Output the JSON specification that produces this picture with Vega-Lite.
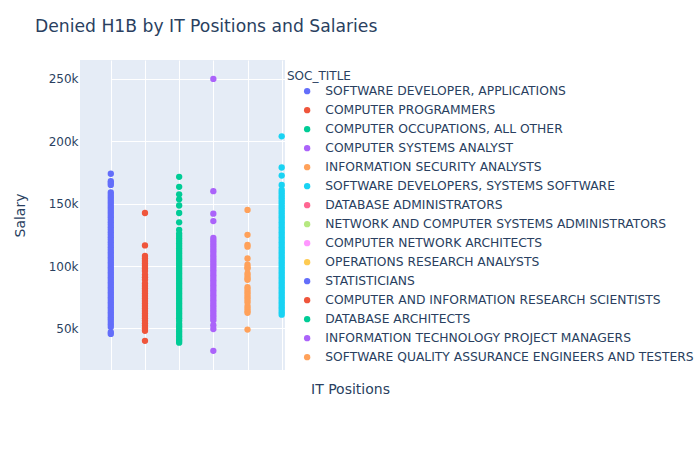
{
  "$schema": "https://vega.github.io/schema/vega-lite/v6.json",
  "width": 205,
  "height": 310,
  "autosize": {"type": "none"},
  "padding": {"left": 80, "top": 60, "right": 415, "bottom": 80},
  "background": "white",
  "config": {
    "font": "DejaVu Sans",
    "view": {"fill": "#E5ECF6", "stroke": null},
    "axis": {"labelColor": "#2a3f5f", "titleColor": "#2a3f5f", "titleFontWeight": "normal", "labelFontSize": 12, "titleFontSize": 14, "gridColor": "white", "gridWidth": 1, "domain": false, "ticks": false}
  },
  "title": {"text": "Denied H1B by IT Positions and Salaries", "anchor": "start", "frame": "group", "dx": -45, "offset": 25, "fontSize": 17.2, "fontWeight": "normal", "color": "#2a3f5f"},
  "datasets": {
    "pts": [
      {"SOC_TITLE": "SOFTWARE DEVELOPER, APPLICATIONS", "Salary": 174000},
      {"SOC_TITLE": "SOFTWARE DEVELOPER, APPLICATIONS", "Salary": 168000},
      {"SOC_TITLE": "SOFTWARE DEVELOPER, APPLICATIONS", "Salary": 166500},
      {"SOC_TITLE": "SOFTWARE DEVELOPER, APPLICATIONS", "Salary": 165000},
      {"SOC_TITLE": "SOFTWARE DEVELOPER, APPLICATIONS", "Salary": 159000},
      {"SOC_TITLE": "SOFTWARE DEVELOPER, APPLICATIONS", "Salary": 157000},
      {"SOC_TITLE": "SOFTWARE DEVELOPER, APPLICATIONS", "Salary": 155000},
      {"SOC_TITLE": "SOFTWARE DEVELOPER, APPLICATIONS", "Salary": 153000},
      {"SOC_TITLE": "SOFTWARE DEVELOPER, APPLICATIONS", "Salary": 151000},
      {"SOC_TITLE": "SOFTWARE DEVELOPER, APPLICATIONS", "Salary": 149000},
      {"SOC_TITLE": "SOFTWARE DEVELOPER, APPLICATIONS", "Salary": 147000},
      {"SOC_TITLE": "SOFTWARE DEVELOPER, APPLICATIONS", "Salary": 145000},
      {"SOC_TITLE": "SOFTWARE DEVELOPER, APPLICATIONS", "Salary": 143000},
      {"SOC_TITLE": "SOFTWARE DEVELOPER, APPLICATIONS", "Salary": 141000},
      {"SOC_TITLE": "SOFTWARE DEVELOPER, APPLICATIONS", "Salary": 139000},
      {"SOC_TITLE": "SOFTWARE DEVELOPER, APPLICATIONS", "Salary": 137000},
      {"SOC_TITLE": "SOFTWARE DEVELOPER, APPLICATIONS", "Salary": 135000},
      {"SOC_TITLE": "SOFTWARE DEVELOPER, APPLICATIONS", "Salary": 133000},
      {"SOC_TITLE": "SOFTWARE DEVELOPER, APPLICATIONS", "Salary": 131000},
      {"SOC_TITLE": "SOFTWARE DEVELOPER, APPLICATIONS", "Salary": 129000},
      {"SOC_TITLE": "SOFTWARE DEVELOPER, APPLICATIONS", "Salary": 127000},
      {"SOC_TITLE": "SOFTWARE DEVELOPER, APPLICATIONS", "Salary": 125000},
      {"SOC_TITLE": "SOFTWARE DEVELOPER, APPLICATIONS", "Salary": 123000},
      {"SOC_TITLE": "SOFTWARE DEVELOPER, APPLICATIONS", "Salary": 121000},
      {"SOC_TITLE": "SOFTWARE DEVELOPER, APPLICATIONS", "Salary": 119000},
      {"SOC_TITLE": "SOFTWARE DEVELOPER, APPLICATIONS", "Salary": 117000},
      {"SOC_TITLE": "SOFTWARE DEVELOPER, APPLICATIONS", "Salary": 115000},
      {"SOC_TITLE": "SOFTWARE DEVELOPER, APPLICATIONS", "Salary": 113000},
      {"SOC_TITLE": "SOFTWARE DEVELOPER, APPLICATIONS", "Salary": 111000},
      {"SOC_TITLE": "SOFTWARE DEVELOPER, APPLICATIONS", "Salary": 109000},
      {"SOC_TITLE": "SOFTWARE DEVELOPER, APPLICATIONS", "Salary": 107000},
      {"SOC_TITLE": "SOFTWARE DEVELOPER, APPLICATIONS", "Salary": 105000},
      {"SOC_TITLE": "SOFTWARE DEVELOPER, APPLICATIONS", "Salary": 103000},
      {"SOC_TITLE": "SOFTWARE DEVELOPER, APPLICATIONS", "Salary": 101000},
      {"SOC_TITLE": "SOFTWARE DEVELOPER, APPLICATIONS", "Salary": 99000},
      {"SOC_TITLE": "SOFTWARE DEVELOPER, APPLICATIONS", "Salary": 97000},
      {"SOC_TITLE": "SOFTWARE DEVELOPER, APPLICATIONS", "Salary": 95000},
      {"SOC_TITLE": "SOFTWARE DEVELOPER, APPLICATIONS", "Salary": 93000},
      {"SOC_TITLE": "SOFTWARE DEVELOPER, APPLICATIONS", "Salary": 91000},
      {"SOC_TITLE": "SOFTWARE DEVELOPER, APPLICATIONS", "Salary": 89000},
      {"SOC_TITLE": "SOFTWARE DEVELOPER, APPLICATIONS", "Salary": 87000},
      {"SOC_TITLE": "SOFTWARE DEVELOPER, APPLICATIONS", "Salary": 85000},
      {"SOC_TITLE": "SOFTWARE DEVELOPER, APPLICATIONS", "Salary": 83000},
      {"SOC_TITLE": "SOFTWARE DEVELOPER, APPLICATIONS", "Salary": 81000},
      {"SOC_TITLE": "SOFTWARE DEVELOPER, APPLICATIONS", "Salary": 79000},
      {"SOC_TITLE": "SOFTWARE DEVELOPER, APPLICATIONS", "Salary": 77000},
      {"SOC_TITLE": "SOFTWARE DEVELOPER, APPLICATIONS", "Salary": 75000},
      {"SOC_TITLE": "SOFTWARE DEVELOPER, APPLICATIONS", "Salary": 73000},
      {"SOC_TITLE": "SOFTWARE DEVELOPER, APPLICATIONS", "Salary": 71000},
      {"SOC_TITLE": "SOFTWARE DEVELOPER, APPLICATIONS", "Salary": 69000},
      {"SOC_TITLE": "SOFTWARE DEVELOPER, APPLICATIONS", "Salary": 67000},
      {"SOC_TITLE": "SOFTWARE DEVELOPER, APPLICATIONS", "Salary": 65000},
      {"SOC_TITLE": "SOFTWARE DEVELOPER, APPLICATIONS", "Salary": 63000},
      {"SOC_TITLE": "SOFTWARE DEVELOPER, APPLICATIONS", "Salary": 61000},
      {"SOC_TITLE": "SOFTWARE DEVELOPER, APPLICATIONS", "Salary": 59000},
      {"SOC_TITLE": "SOFTWARE DEVELOPER, APPLICATIONS", "Salary": 57000},
      {"SOC_TITLE": "SOFTWARE DEVELOPER, APPLICATIONS", "Salary": 55000},
      {"SOC_TITLE": "SOFTWARE DEVELOPER, APPLICATIONS", "Salary": 53000},
      {"SOC_TITLE": "SOFTWARE DEVELOPER, APPLICATIONS", "Salary": 51000},
      {"SOC_TITLE": "SOFTWARE DEVELOPER, APPLICATIONS", "Salary": 47000},
      {"SOC_TITLE": "SOFTWARE DEVELOPER, APPLICATIONS", "Salary": 45500},
      {"SOC_TITLE": "COMPUTER PROGRAMMERS", "Salary": 142500},
      {"SOC_TITLE": "COMPUTER PROGRAMMERS", "Salary": 116500},
      {"SOC_TITLE": "COMPUTER PROGRAMMERS", "Salary": 108000},
      {"SOC_TITLE": "COMPUTER PROGRAMMERS", "Salary": 106000},
      {"SOC_TITLE": "COMPUTER PROGRAMMERS", "Salary": 104000},
      {"SOC_TITLE": "COMPUTER PROGRAMMERS", "Salary": 102000},
      {"SOC_TITLE": "COMPUTER PROGRAMMERS", "Salary": 100000},
      {"SOC_TITLE": "COMPUTER PROGRAMMERS", "Salary": 98000},
      {"SOC_TITLE": "COMPUTER PROGRAMMERS", "Salary": 96000},
      {"SOC_TITLE": "COMPUTER PROGRAMMERS", "Salary": 93000},
      {"SOC_TITLE": "COMPUTER PROGRAMMERS", "Salary": 91000},
      {"SOC_TITLE": "COMPUTER PROGRAMMERS", "Salary": 89000},
      {"SOC_TITLE": "COMPUTER PROGRAMMERS", "Salary": 86000},
      {"SOC_TITLE": "COMPUTER PROGRAMMERS", "Salary": 84000},
      {"SOC_TITLE": "COMPUTER PROGRAMMERS", "Salary": 82000},
      {"SOC_TITLE": "COMPUTER PROGRAMMERS", "Salary": 80000},
      {"SOC_TITLE": "COMPUTER PROGRAMMERS", "Salary": 78000},
      {"SOC_TITLE": "COMPUTER PROGRAMMERS", "Salary": 76000},
      {"SOC_TITLE": "COMPUTER PROGRAMMERS", "Salary": 74000},
      {"SOC_TITLE": "COMPUTER PROGRAMMERS", "Salary": 72000},
      {"SOC_TITLE": "COMPUTER PROGRAMMERS", "Salary": 70000},
      {"SOC_TITLE": "COMPUTER PROGRAMMERS", "Salary": 68000},
      {"SOC_TITLE": "COMPUTER PROGRAMMERS", "Salary": 66000},
      {"SOC_TITLE": "COMPUTER PROGRAMMERS", "Salary": 64000},
      {"SOC_TITLE": "COMPUTER PROGRAMMERS", "Salary": 62000},
      {"SOC_TITLE": "COMPUTER PROGRAMMERS", "Salary": 60000},
      {"SOC_TITLE": "COMPUTER PROGRAMMERS", "Salary": 58000},
      {"SOC_TITLE": "COMPUTER PROGRAMMERS", "Salary": 56000},
      {"SOC_TITLE": "COMPUTER PROGRAMMERS", "Salary": 54000},
      {"SOC_TITLE": "COMPUTER PROGRAMMERS", "Salary": 52000},
      {"SOC_TITLE": "COMPUTER PROGRAMMERS", "Salary": 50000},
      {"SOC_TITLE": "COMPUTER PROGRAMMERS", "Salary": 48000},
      {"SOC_TITLE": "COMPUTER PROGRAMMERS", "Salary": 40000},
      {"SOC_TITLE": "COMPUTER OCCUPATIONS, ALL OTHER", "Salary": 171500},
      {"SOC_TITLE": "COMPUTER OCCUPATIONS, ALL OTHER", "Salary": 163500},
      {"SOC_TITLE": "COMPUTER OCCUPATIONS, ALL OTHER", "Salary": 157500},
      {"SOC_TITLE": "COMPUTER OCCUPATIONS, ALL OTHER", "Salary": 153500},
      {"SOC_TITLE": "COMPUTER OCCUPATIONS, ALL OTHER", "Salary": 148500},
      {"SOC_TITLE": "COMPUTER OCCUPATIONS, ALL OTHER", "Salary": 142500},
      {"SOC_TITLE": "COMPUTER OCCUPATIONS, ALL OTHER", "Salary": 135000},
      {"SOC_TITLE": "COMPUTER OCCUPATIONS, ALL OTHER", "Salary": 129000},
      {"SOC_TITLE": "COMPUTER OCCUPATIONS, ALL OTHER", "Salary": 126000},
      {"SOC_TITLE": "COMPUTER OCCUPATIONS, ALL OTHER", "Salary": 124000},
      {"SOC_TITLE": "COMPUTER OCCUPATIONS, ALL OTHER", "Salary": 122000},
      {"SOC_TITLE": "COMPUTER OCCUPATIONS, ALL OTHER", "Salary": 120000},
      {"SOC_TITLE": "COMPUTER OCCUPATIONS, ALL OTHER", "Salary": 118000},
      {"SOC_TITLE": "COMPUTER OCCUPATIONS, ALL OTHER", "Salary": 116000},
      {"SOC_TITLE": "COMPUTER OCCUPATIONS, ALL OTHER", "Salary": 114000},
      {"SOC_TITLE": "COMPUTER OCCUPATIONS, ALL OTHER", "Salary": 112000},
      {"SOC_TITLE": "COMPUTER OCCUPATIONS, ALL OTHER", "Salary": 110000},
      {"SOC_TITLE": "COMPUTER OCCUPATIONS, ALL OTHER", "Salary": 108000},
      {"SOC_TITLE": "COMPUTER OCCUPATIONS, ALL OTHER", "Salary": 106000},
      {"SOC_TITLE": "COMPUTER OCCUPATIONS, ALL OTHER", "Salary": 104000},
      {"SOC_TITLE": "COMPUTER OCCUPATIONS, ALL OTHER", "Salary": 102000},
      {"SOC_TITLE": "COMPUTER OCCUPATIONS, ALL OTHER", "Salary": 100000},
      {"SOC_TITLE": "COMPUTER OCCUPATIONS, ALL OTHER", "Salary": 98000},
      {"SOC_TITLE": "COMPUTER OCCUPATIONS, ALL OTHER", "Salary": 96000},
      {"SOC_TITLE": "COMPUTER OCCUPATIONS, ALL OTHER", "Salary": 94000},
      {"SOC_TITLE": "COMPUTER OCCUPATIONS, ALL OTHER", "Salary": 92000},
      {"SOC_TITLE": "COMPUTER OCCUPATIONS, ALL OTHER", "Salary": 90000},
      {"SOC_TITLE": "COMPUTER OCCUPATIONS, ALL OTHER", "Salary": 88000},
      {"SOC_TITLE": "COMPUTER OCCUPATIONS, ALL OTHER", "Salary": 86000},
      {"SOC_TITLE": "COMPUTER OCCUPATIONS, ALL OTHER", "Salary": 84000},
      {"SOC_TITLE": "COMPUTER OCCUPATIONS, ALL OTHER", "Salary": 82000},
      {"SOC_TITLE": "COMPUTER OCCUPATIONS, ALL OTHER", "Salary": 80000},
      {"SOC_TITLE": "COMPUTER OCCUPATIONS, ALL OTHER", "Salary": 78000},
      {"SOC_TITLE": "COMPUTER OCCUPATIONS, ALL OTHER", "Salary": 76000},
      {"SOC_TITLE": "COMPUTER OCCUPATIONS, ALL OTHER", "Salary": 74000},
      {"SOC_TITLE": "COMPUTER OCCUPATIONS, ALL OTHER", "Salary": 72000},
      {"SOC_TITLE": "COMPUTER OCCUPATIONS, ALL OTHER", "Salary": 70000},
      {"SOC_TITLE": "COMPUTER OCCUPATIONS, ALL OTHER", "Salary": 68000},
      {"SOC_TITLE": "COMPUTER OCCUPATIONS, ALL OTHER", "Salary": 66000},
      {"SOC_TITLE": "COMPUTER OCCUPATIONS, ALL OTHER", "Salary": 64000},
      {"SOC_TITLE": "COMPUTER OCCUPATIONS, ALL OTHER", "Salary": 62000},
      {"SOC_TITLE": "COMPUTER OCCUPATIONS, ALL OTHER", "Salary": 60000},
      {"SOC_TITLE": "COMPUTER OCCUPATIONS, ALL OTHER", "Salary": 58000},
      {"SOC_TITLE": "COMPUTER OCCUPATIONS, ALL OTHER", "Salary": 56000},
      {"SOC_TITLE": "COMPUTER OCCUPATIONS, ALL OTHER", "Salary": 53500},
      {"SOC_TITLE": "COMPUTER OCCUPATIONS, ALL OTHER", "Salary": 51500},
      {"SOC_TITLE": "COMPUTER OCCUPATIONS, ALL OTHER", "Salary": 49500},
      {"SOC_TITLE": "COMPUTER OCCUPATIONS, ALL OTHER", "Salary": 47500},
      {"SOC_TITLE": "COMPUTER OCCUPATIONS, ALL OTHER", "Salary": 45500},
      {"SOC_TITLE": "COMPUTER OCCUPATIONS, ALL OTHER", "Salary": 43500},
      {"SOC_TITLE": "COMPUTER OCCUPATIONS, ALL OTHER", "Salary": 41500},
      {"SOC_TITLE": "COMPUTER OCCUPATIONS, ALL OTHER", "Salary": 40000},
      {"SOC_TITLE": "COMPUTER OCCUPATIONS, ALL OTHER", "Salary": 38500},
      {"SOC_TITLE": "COMPUTER SYSTEMS ANALYST", "Salary": 250000},
      {"SOC_TITLE": "COMPUTER SYSTEMS ANALYST", "Salary": 160000},
      {"SOC_TITLE": "COMPUTER SYSTEMS ANALYST", "Salary": 142000},
      {"SOC_TITLE": "COMPUTER SYSTEMS ANALYST", "Salary": 136000},
      {"SOC_TITLE": "COMPUTER SYSTEMS ANALYST", "Salary": 122500},
      {"SOC_TITLE": "COMPUTER SYSTEMS ANALYST", "Salary": 120500},
      {"SOC_TITLE": "COMPUTER SYSTEMS ANALYST", "Salary": 118500},
      {"SOC_TITLE": "COMPUTER SYSTEMS ANALYST", "Salary": 116500},
      {"SOC_TITLE": "COMPUTER SYSTEMS ANALYST", "Salary": 114500},
      {"SOC_TITLE": "COMPUTER SYSTEMS ANALYST", "Salary": 112500},
      {"SOC_TITLE": "COMPUTER SYSTEMS ANALYST", "Salary": 110500},
      {"SOC_TITLE": "COMPUTER SYSTEMS ANALYST", "Salary": 108500},
      {"SOC_TITLE": "COMPUTER SYSTEMS ANALYST", "Salary": 106500},
      {"SOC_TITLE": "COMPUTER SYSTEMS ANALYST", "Salary": 104500},
      {"SOC_TITLE": "COMPUTER SYSTEMS ANALYST", "Salary": 102500},
      {"SOC_TITLE": "COMPUTER SYSTEMS ANALYST", "Salary": 100500},
      {"SOC_TITLE": "COMPUTER SYSTEMS ANALYST", "Salary": 98500},
      {"SOC_TITLE": "COMPUTER SYSTEMS ANALYST", "Salary": 96500},
      {"SOC_TITLE": "COMPUTER SYSTEMS ANALYST", "Salary": 94500},
      {"SOC_TITLE": "COMPUTER SYSTEMS ANALYST", "Salary": 92500},
      {"SOC_TITLE": "COMPUTER SYSTEMS ANALYST", "Salary": 90500},
      {"SOC_TITLE": "COMPUTER SYSTEMS ANALYST", "Salary": 88500},
      {"SOC_TITLE": "COMPUTER SYSTEMS ANALYST", "Salary": 86500},
      {"SOC_TITLE": "COMPUTER SYSTEMS ANALYST", "Salary": 84500},
      {"SOC_TITLE": "COMPUTER SYSTEMS ANALYST", "Salary": 82500},
      {"SOC_TITLE": "COMPUTER SYSTEMS ANALYST", "Salary": 80500},
      {"SOC_TITLE": "COMPUTER SYSTEMS ANALYST", "Salary": 78500},
      {"SOC_TITLE": "COMPUTER SYSTEMS ANALYST", "Salary": 76500},
      {"SOC_TITLE": "COMPUTER SYSTEMS ANALYST", "Salary": 74500},
      {"SOC_TITLE": "COMPUTER SYSTEMS ANALYST", "Salary": 72500},
      {"SOC_TITLE": "COMPUTER SYSTEMS ANALYST", "Salary": 70500},
      {"SOC_TITLE": "COMPUTER SYSTEMS ANALYST", "Salary": 68500},
      {"SOC_TITLE": "COMPUTER SYSTEMS ANALYST", "Salary": 66500},
      {"SOC_TITLE": "COMPUTER SYSTEMS ANALYST", "Salary": 64500},
      {"SOC_TITLE": "COMPUTER SYSTEMS ANALYST", "Salary": 62500},
      {"SOC_TITLE": "COMPUTER SYSTEMS ANALYST", "Salary": 60500},
      {"SOC_TITLE": "COMPUTER SYSTEMS ANALYST", "Salary": 58500},
      {"SOC_TITLE": "COMPUTER SYSTEMS ANALYST", "Salary": 56500},
      {"SOC_TITLE": "COMPUTER SYSTEMS ANALYST", "Salary": 52500},
      {"SOC_TITLE": "COMPUTER SYSTEMS ANALYST", "Salary": 49500},
      {"SOC_TITLE": "COMPUTER SYSTEMS ANALYST", "Salary": 32000},
      {"SOC_TITLE": "INFORMATION SECURITY ANALYSTS", "Salary": 145000},
      {"SOC_TITLE": "INFORMATION SECURITY ANALYSTS", "Salary": 125000},
      {"SOC_TITLE": "INFORMATION SECURITY ANALYSTS", "Salary": 117000},
      {"SOC_TITLE": "INFORMATION SECURITY ANALYSTS", "Salary": 115500},
      {"SOC_TITLE": "INFORMATION SECURITY ANALYSTS", "Salary": 106000},
      {"SOC_TITLE": "INFORMATION SECURITY ANALYSTS", "Salary": 101000},
      {"SOC_TITLE": "INFORMATION SECURITY ANALYSTS", "Salary": 99000},
      {"SOC_TITLE": "INFORMATION SECURITY ANALYSTS", "Salary": 98000},
      {"SOC_TITLE": "INFORMATION SECURITY ANALYSTS", "Salary": 94000},
      {"SOC_TITLE": "INFORMATION SECURITY ANALYSTS", "Salary": 92000},
      {"SOC_TITLE": "INFORMATION SECURITY ANALYSTS", "Salary": 90000},
      {"SOC_TITLE": "INFORMATION SECURITY ANALYSTS", "Salary": 89000},
      {"SOC_TITLE": "INFORMATION SECURITY ANALYSTS", "Salary": 83000},
      {"SOC_TITLE": "INFORMATION SECURITY ANALYSTS", "Salary": 81000},
      {"SOC_TITLE": "INFORMATION SECURITY ANALYSTS", "Salary": 79000},
      {"SOC_TITLE": "INFORMATION SECURITY ANALYSTS", "Salary": 77000},
      {"SOC_TITLE": "INFORMATION SECURITY ANALYSTS", "Salary": 75000},
      {"SOC_TITLE": "INFORMATION SECURITY ANALYSTS", "Salary": 73000},
      {"SOC_TITLE": "INFORMATION SECURITY ANALYSTS", "Salary": 71000},
      {"SOC_TITLE": "INFORMATION SECURITY ANALYSTS", "Salary": 68000},
      {"SOC_TITLE": "INFORMATION SECURITY ANALYSTS", "Salary": 66000},
      {"SOC_TITLE": "INFORMATION SECURITY ANALYSTS", "Salary": 64000},
      {"SOC_TITLE": "INFORMATION SECURITY ANALYSTS", "Salary": 62500},
      {"SOC_TITLE": "INFORMATION SECURITY ANALYSTS", "Salary": 49000},
      {"SOC_TITLE": "SOFTWARE DEVELOPERS, SYSTEMS SOFTWARE", "Salary": 204000},
      {"SOC_TITLE": "SOFTWARE DEVELOPERS, SYSTEMS SOFTWARE", "Salary": 179000},
      {"SOC_TITLE": "SOFTWARE DEVELOPERS, SYSTEMS SOFTWARE", "Salary": 172500},
      {"SOC_TITLE": "SOFTWARE DEVELOPERS, SYSTEMS SOFTWARE", "Salary": 165000},
      {"SOC_TITLE": "SOFTWARE DEVELOPERS, SYSTEMS SOFTWARE", "Salary": 161000},
      {"SOC_TITLE": "SOFTWARE DEVELOPERS, SYSTEMS SOFTWARE", "Salary": 159000},
      {"SOC_TITLE": "SOFTWARE DEVELOPERS, SYSTEMS SOFTWARE", "Salary": 157000},
      {"SOC_TITLE": "SOFTWARE DEVELOPERS, SYSTEMS SOFTWARE", "Salary": 155000},
      {"SOC_TITLE": "SOFTWARE DEVELOPERS, SYSTEMS SOFTWARE", "Salary": 153000},
      {"SOC_TITLE": "SOFTWARE DEVELOPERS, SYSTEMS SOFTWARE", "Salary": 151000},
      {"SOC_TITLE": "SOFTWARE DEVELOPERS, SYSTEMS SOFTWARE", "Salary": 149000},
      {"SOC_TITLE": "SOFTWARE DEVELOPERS, SYSTEMS SOFTWARE", "Salary": 147000},
      {"SOC_TITLE": "SOFTWARE DEVELOPERS, SYSTEMS SOFTWARE", "Salary": 145000},
      {"SOC_TITLE": "SOFTWARE DEVELOPERS, SYSTEMS SOFTWARE", "Salary": 143000},
      {"SOC_TITLE": "SOFTWARE DEVELOPERS, SYSTEMS SOFTWARE", "Salary": 141000},
      {"SOC_TITLE": "SOFTWARE DEVELOPERS, SYSTEMS SOFTWARE", "Salary": 139000},
      {"SOC_TITLE": "SOFTWARE DEVELOPERS, SYSTEMS SOFTWARE", "Salary": 137000},
      {"SOC_TITLE": "SOFTWARE DEVELOPERS, SYSTEMS SOFTWARE", "Salary": 135000},
      {"SOC_TITLE": "SOFTWARE DEVELOPERS, SYSTEMS SOFTWARE", "Salary": 133000},
      {"SOC_TITLE": "SOFTWARE DEVELOPERS, SYSTEMS SOFTWARE", "Salary": 131000},
      {"SOC_TITLE": "SOFTWARE DEVELOPERS, SYSTEMS SOFTWARE", "Salary": 129000},
      {"SOC_TITLE": "SOFTWARE DEVELOPERS, SYSTEMS SOFTWARE", "Salary": 127000},
      {"SOC_TITLE": "SOFTWARE DEVELOPERS, SYSTEMS SOFTWARE", "Salary": 125000},
      {"SOC_TITLE": "SOFTWARE DEVELOPERS, SYSTEMS SOFTWARE", "Salary": 123000},
      {"SOC_TITLE": "SOFTWARE DEVELOPERS, SYSTEMS SOFTWARE", "Salary": 121000},
      {"SOC_TITLE": "SOFTWARE DEVELOPERS, SYSTEMS SOFTWARE", "Salary": 119000},
      {"SOC_TITLE": "SOFTWARE DEVELOPERS, SYSTEMS SOFTWARE", "Salary": 117000},
      {"SOC_TITLE": "SOFTWARE DEVELOPERS, SYSTEMS SOFTWARE", "Salary": 115000},
      {"SOC_TITLE": "SOFTWARE DEVELOPERS, SYSTEMS SOFTWARE", "Salary": 113000},
      {"SOC_TITLE": "SOFTWARE DEVELOPERS, SYSTEMS SOFTWARE", "Salary": 111000},
      {"SOC_TITLE": "SOFTWARE DEVELOPERS, SYSTEMS SOFTWARE", "Salary": 109000},
      {"SOC_TITLE": "SOFTWARE DEVELOPERS, SYSTEMS SOFTWARE", "Salary": 107000},
      {"SOC_TITLE": "SOFTWARE DEVELOPERS, SYSTEMS SOFTWARE", "Salary": 105000},
      {"SOC_TITLE": "SOFTWARE DEVELOPERS, SYSTEMS SOFTWARE", "Salary": 103000},
      {"SOC_TITLE": "SOFTWARE DEVELOPERS, SYSTEMS SOFTWARE", "Salary": 101000},
      {"SOC_TITLE": "SOFTWARE DEVELOPERS, SYSTEMS SOFTWARE", "Salary": 99000},
      {"SOC_TITLE": "SOFTWARE DEVELOPERS, SYSTEMS SOFTWARE", "Salary": 97000},
      {"SOC_TITLE": "SOFTWARE DEVELOPERS, SYSTEMS SOFTWARE", "Salary": 95000},
      {"SOC_TITLE": "SOFTWARE DEVELOPERS, SYSTEMS SOFTWARE", "Salary": 93000},
      {"SOC_TITLE": "SOFTWARE DEVELOPERS, SYSTEMS SOFTWARE", "Salary": 91000},
      {"SOC_TITLE": "SOFTWARE DEVELOPERS, SYSTEMS SOFTWARE", "Salary": 89000},
      {"SOC_TITLE": "SOFTWARE DEVELOPERS, SYSTEMS SOFTWARE", "Salary": 87000},
      {"SOC_TITLE": "SOFTWARE DEVELOPERS, SYSTEMS SOFTWARE", "Salary": 85000},
      {"SOC_TITLE": "SOFTWARE DEVELOPERS, SYSTEMS SOFTWARE", "Salary": 83000},
      {"SOC_TITLE": "SOFTWARE DEVELOPERS, SYSTEMS SOFTWARE", "Salary": 81000},
      {"SOC_TITLE": "SOFTWARE DEVELOPERS, SYSTEMS SOFTWARE", "Salary": 79000},
      {"SOC_TITLE": "SOFTWARE DEVELOPERS, SYSTEMS SOFTWARE", "Salary": 77000},
      {"SOC_TITLE": "SOFTWARE DEVELOPERS, SYSTEMS SOFTWARE", "Salary": 75000},
      {"SOC_TITLE": "SOFTWARE DEVELOPERS, SYSTEMS SOFTWARE", "Salary": 73000},
      {"SOC_TITLE": "SOFTWARE DEVELOPERS, SYSTEMS SOFTWARE", "Salary": 71000},
      {"SOC_TITLE": "SOFTWARE DEVELOPERS, SYSTEMS SOFTWARE", "Salary": 69000},
      {"SOC_TITLE": "SOFTWARE DEVELOPERS, SYSTEMS SOFTWARE", "Salary": 67000},
      {"SOC_TITLE": "SOFTWARE DEVELOPERS, SYSTEMS SOFTWARE", "Salary": 65000},
      {"SOC_TITLE": "SOFTWARE DEVELOPERS, SYSTEMS SOFTWARE", "Salary": 63000},
      {"SOC_TITLE": "SOFTWARE DEVELOPERS, SYSTEMS SOFTWARE", "Salary": 61000}
    ]
  },
  "data": {"name": "pts"},
  "mark": {"type": "point", "filled": true, "opacity": 1, "size": 40},
  "encoding": {
    "x": {
      "field": "SOC_TITLE", "type": "nominal", "sort": null,
      "scale": {"type": "point", "padding": 0, "range": [30.8, 509.3], "domain": ["SOFTWARE DEVELOPER, APPLICATIONS", "COMPUTER PROGRAMMERS", "COMPUTER OCCUPATIONS, ALL OTHER", "COMPUTER SYSTEMS ANALYST", "INFORMATION SECURITY ANALYSTS", "SOFTWARE DEVELOPERS, SYSTEMS SOFTWARE", "DATABASE ADMINISTRATORS", "NETWORK AND COMPUTER SYSTEMS ADMINISTRATORS", "COMPUTER NETWORK ARCHITECTS", "OPERATIONS RESEARCH ANALYSTS", "STATISTICIANS", "COMPUTER AND INFORMATION RESEARCH SCIENTISTS", "DATABASE ARCHITECTS", "INFORMATION TECHNOLOGY PROJECT MANAGERS", "SOFTWARE QUALITY ASSURANCE ENGINEERS AND TESTERS"]},
      "axis": {"title": "IT Positions", "labels": false, "grid": true, "titlePadding": 12, "titleX": 270, "titleAlign": "center", "titleAnchor": null}
    },
    "y": {
      "field": "Salary", "type": "quantitative",
      "scale": {"domain": [16600, 265200], "nice": false, "zero": false},
      "axis": {"title": "Salary", "values": [50000, 100000, 150000, 200000, 250000], "format": "~s", "labelPadding": 2, "titlePadding": 21}
    },
    "color": {
      "field": "SOC_TITLE", "type": "nominal", "sort": null,
      "scale": {
        "domain": ["SOFTWARE DEVELOPER, APPLICATIONS", "COMPUTER PROGRAMMERS", "COMPUTER OCCUPATIONS, ALL OTHER", "COMPUTER SYSTEMS ANALYST", "INFORMATION SECURITY ANALYSTS", "SOFTWARE DEVELOPERS, SYSTEMS SOFTWARE", "DATABASE ADMINISTRATORS", "NETWORK AND COMPUTER SYSTEMS ADMINISTRATORS", "COMPUTER NETWORK ARCHITECTS", "OPERATIONS RESEARCH ANALYSTS", "STATISTICIANS", "COMPUTER AND INFORMATION RESEARCH SCIENTISTS", "DATABASE ARCHITECTS", "INFORMATION TECHNOLOGY PROJECT MANAGERS", "SOFTWARE QUALITY ASSURANCE ENGINEERS AND TESTERS"],
        "range": ["#636efa", "#EF553B", "#00cc96", "#ab63fa", "#FFA15A", "#19d3f3", "#FF6692", "#B6E880", "#FF97FF", "#FECB52", "#636efa", "#EF553B", "#00cc96", "#ab63fa", "#FFA15A"]
      },
      "legend": {
        "title": "SOC_TITLE", "orient": "none", "legendX": 205, "legendY": 9, "padding": 2,
        "fillColor": "white", "strokeColor": null,
        "titleFontWeight": "normal", "titleFontSize": 12, "titleColor": "#2a3f5f", "titlePadding": 2,
        "labelFontSize": 12.3, "labelColor": "#2a3f5f", "labelLimit": 0, "labelOffset": 12,
        "symbolType": "circle", "symbolSize": 40, "symbolOffset": 14, "rowPadding": 6
      }
    }
  }
}
